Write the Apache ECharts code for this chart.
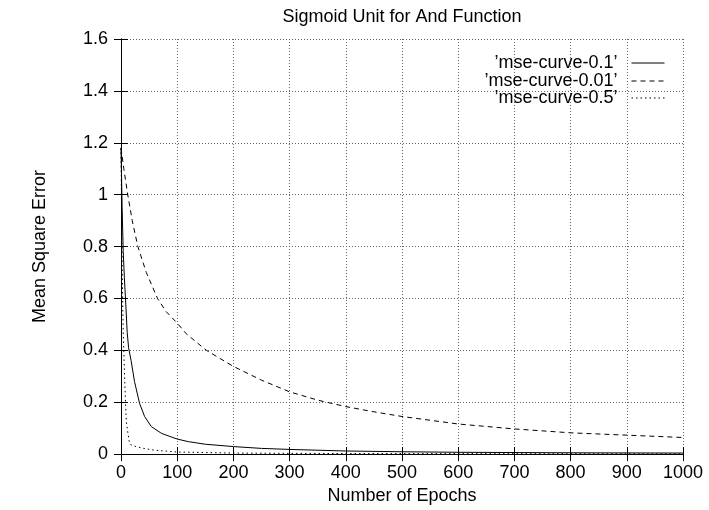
<!DOCTYPE html>
<html>
<head>
<meta charset="utf-8">
<script src="https://cdn.jsdelivr.net/npm/echarts@6/dist/echarts.min.js"></script>
<style>
html,body{margin:0;padding:0;background:#fff;}
#chart{width:709px;height:510px;}
</style>
</head>
<body>
<div id="chart"></div>
<script>
// Data
const titleText = 'Sigmoid Unit for And Function';
const xName = 'Number of Epochs';
const yName = 'Mean Square Error';
const seriesNames = ['\u2019mse-curve-0.1\u2019', '\u2019mse-curve-0.01\u2019', '\u2019mse-curve-0.5\u2019'];

const epochs01 = [0, 2, 4, 6, 8, 11, 13.5, 18, 24, 33, 42, 54, 72, 87, 100, 120, 150, 200, 250, 300, 400, 500, 600, 700, 800, 900, 1000];
const mse01    = [1.18, 0.95, 0.78, 0.68, 0.6, 0.47, 0.41, 0.36, 0.28, 0.196, 0.145, 0.106, 0.08, 0.068, 0.058, 0.048, 0.038, 0.029, 0.022, 0.018, 0.012, 0.009, 0.007, 0.006, 0.005, 0.0045, 0.004];

const epochs001 = [0, 5, 12, 20, 30, 45, 65, 80, 100, 116, 135, 152, 175, 200, 250, 300, 350, 400, 450, 500, 600, 700, 800, 900, 1000];
const mse001    = [1.18, 1.1, 1.0, 0.9, 0.8, 0.7, 0.6, 0.55, 0.505, 0.464, 0.43, 0.40, 0.37, 0.338, 0.285, 0.24, 0.208, 0.183, 0.163, 0.145, 0.116, 0.097, 0.082, 0.073, 0.064];

const epochs05 = [0, 1, 2, 3, 4, 5, 6.5, 8, 9.5, 12, 15, 18, 25, 40, 60, 100, 200, 400, 700, 1000];
const mse05    = [1.18, 0.95, 0.75, 0.58, 0.47, 0.4, 0.29, 0.2, 0.125, 0.085, 0.045, 0.035, 0.03, 0.022, 0.015, 0.008, 0.004, 0.002, 0.0015, 0.001];

const xMin = 0, xMax = 1000, xStep = 100;
const yMin = 0, yMax = 1.6, yStep = 0.2;

function pairs(xs, ys) { return xs.map((x, i) => [x, ys[i]]); }

const FONT = '"Liberation Sans", Arial, Helvetica, sans-serif';
const chart = echarts.init(document.getElementById('chart'), null, {renderer: 'canvas'});

const axisLineStyle = {show: true, lineStyle: {color: '#000', width: 1}};
const tickStyle = {show: true, inside: true, length: 7, lineStyle: {color: '#000', width: 1}};
const gridLine = {show: true, lineStyle: {color: '#666', width: 1, type: [1, 2]}};

function legendFor(name, top) {
  return {
    data: [name], right: 44, top: top, padding: 0,
    itemWidth: 33, itemHeight: 14, selectedMode: false,
    itemStyle: {opacity: 0},
    lineStyle: {width: 1},
    textStyle: {fontFamily: FONT, fontSize: 18, color: '#000', lineHeight: 18, padding: [0, 9, 0, 0]},
    align: 'right'
  };
}

chart.setOption({
  animation: false,
  backgroundColor: '#fff',
  title: {
    text: titleText, left: 402, top: 8, textAlign: 'center', padding: 0,
    textStyle: {fontFamily: FONT, fontSize: 18, fontWeight: 'normal', color: '#000'}
  },
  legend: [legendFor(seriesNames[0], 54), legendFor(seriesNames[1], 72), legendFor(seriesNames[2], 89)],
  grid: {left: 121, right: 26, top: 39, bottom: 54, containLabel: false},
  xAxis: [{
    type: 'value', min: xMin, max: xMax, interval: xStep, position: 'bottom',
    name: xName, nameLocation: 'middle', nameGap: 30,
    nameTextStyle: {fontFamily: FONT, fontSize: 18, color: '#000'},
    axisLine: axisLineStyle, axisTick: tickStyle, splitLine: gridLine,
    axisLabel: {fontFamily: FONT, fontSize: 18, color: '#000', margin: 10,
      formatter: v => String(Math.round(v))}
  }, {
    type: 'value', min: xMin, max: xMax, interval: xStep, position: 'top',
    axisLine: axisLineStyle, axisTick: tickStyle, splitLine: {show: false},
    axisLabel: {show: false}
  }],
  yAxis: [{
    type: 'value', min: yMin, max: yMax, interval: yStep, position: 'left',
    name: yName, nameLocation: 'middle', nameGap: 72, nameRotate: 90,
    nameTextStyle: {fontFamily: FONT, fontSize: 18, color: '#000'},
    axisLine: axisLineStyle, axisTick: tickStyle, splitLine: gridLine,
    axisLabel: {fontFamily: FONT, fontSize: 18, color: '#000', margin: 13,
      formatter: v => String(+(+v).toFixed(1))}
  }, {
    type: 'value', min: yMin, max: yMax, interval: yStep, position: 'right',
    axisLine: axisLineStyle, axisTick: tickStyle, splitLine: {show: false},
    axisLabel: {show: false}
  }],
  series: [{
    name: seriesNames[0], type: 'line', symbol: 'none', xAxisIndex: 0, yAxisIndex: 0,
    data: pairs(epochs01, mse01),
    lineStyle: {color: '#000', width: 1, type: 'solid'}, itemStyle: {color: '#000'}
  }, {
    name: seriesNames[1], type: 'line', symbol: 'none', xAxisIndex: 0, yAxisIndex: 0,
    data: pairs(epochs001, mse001),
    lineStyle: {color: '#000', width: 1, type: [5, 4]}, itemStyle: {color: '#000'}
  }, {
    name: seriesNames[2], type: 'line', symbol: 'none', xAxisIndex: 0, yAxisIndex: 0,
    data: pairs(epochs05, mse05),
    lineStyle: {color: '#000', width: 1, type: [1.5, 3]}, itemStyle: {color: '#000'}
  }]
});
</script>
</body>
</html>
